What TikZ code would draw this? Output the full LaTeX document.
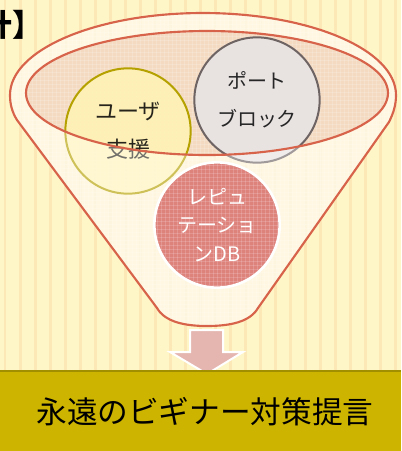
\documentclass[tikz,border=0pt]{standalone}
\usepackage{fontspec}
\newfontfamily\jp{Noto Sans CJK JP}
\newfontfamily\jpb{Noto Sans CJK JP Black}
\definecolor{bgc}{HTML}{FFF6C8}
\definecolor{stripec}{HTML}{FCE8B6}
\definecolor{funnelc}{HTML}{FFF3D4}
\definecolor{ellc}{HTML}{F3D8C0}
\definecolor{redline}{HTML}{D8634B}
\definecolor{yelfill}{HTML}{FFF3B4}
\definecolor{yelline}{HTML}{B5A100}
\definecolor{grayfill}{HTML}{E8E2E1}
\definecolor{grayline}{HTML}{6E6464}
\definecolor{redfill}{HTML}{DE827C}
\definecolor{arrowc}{HTML}{E5B5B0}
\definecolor{bandc}{HTML}{CDB400}
\definecolor{bandline}{HTML}{A28F00}
\tikzset{
  bubble/.style={circle, minimum size=94pt, inner sep=0pt, align=center},
  thinred/.style={draw=redline, line width=1.6pt},
}
\def\funnelpath{(10,95) .. controls (10,49.7) and (96.4,13) .. (203,13)
  .. controls (309.6,13) and (396,49.7) .. (396,95)
  .. controls (396,104) and (394,112) .. (389,122)
  -- (258,308) .. controls (250,322) and (230,326) .. (207,326)
  .. controls (185,326) and (165,322) .. (157,308)
  -- (17,120) .. controls (12,112) and (10,104) .. cycle}
\begin{document}
\begin{tikzpicture}[x=0.75pt,y=-0.75pt]
\useasboundingbox (0,0) rectangle (401,451);
\clip (0,0) rectangle (401,451);
\fill[bgc] (0,0) rectangle (401,451);
\foreach \i in {0,...,26} \fill[stripec] ({4+15*\i},0) rectangle ({6.5+15*\i},372);
% title fragment
\node[anchor=east, inner sep=0pt, font=\jpb\fontsize{23}{26}\selectfont] (title) at (43,25) {計】};
% funnel
\fill[funnelc, opacity=0.85] \funnelpath;
\fill[ellc, opacity=0.9] (207,93) ellipse [x radius=181, y radius=62];
\begin{scope}
  \clip \funnelpath;
  \foreach \i in {0,...,100} \draw[white, opacity=0.18, line width=0.4pt] ({4*\i},0) -- ({4*\i},330);
  \foreach \i in {0,...,85} \draw[white, opacity=0.18, line width=0.4pt] (0,{4*\i}) -- (401,{4*\i});
\end{scope}
% circles behind
\node[bubble, fill=yelfill, fill opacity=0.85, draw=yelline, line width=1.5pt,
      font=\jp\fontsize{16.5}{28.5}\selectfont] (user) at (128,131) {ユーザ\\支援};
\node[bubble, fill=grayfill, draw=grayline, line width=1.5pt, text=black!85,
      font=\jp\fontsize{15}{28.5}\selectfont] (port) at (257,100) {ポート\\ブロック};
% overlay lower funnel
\fill[white, opacity=0.35, even odd rule] \funnelpath (207,93) ellipse [x radius=181, y radius=62];
% lines
\draw[thinred] (207,93) ellipse [x radius=181, y radius=62];
\draw[thinred] \funnelpath;
% reputation circle
\node[bubble, fill=redfill, draw=white, line width=2pt] (rep) at (217,225) {};
\begin{scope}
  \clip (217,225) circle [radius=61];
  \foreach \i in {0,...,32} \draw[white, opacity=0.16, line width=0.5pt] ({153+4*\i},160) -- ({153+4*\i},290);
  \foreach \i in {0,...,32} \draw[white, opacity=0.16, line width=0.5pt] (150,{161+4*\i}) -- (285,{161+4*\i});
\end{scope}
\node[bubble, text=white, font=\jp\fontsize{15}{21.4}\selectfont] (reptext) at (rep.center) {レピュ\\テーショ\\ンDB};
% arrow
\fill[arrowc, draw=white, line width=1.5pt] (190,330) -- (223,330) -- (223,352) -- (243,352)
  -- (207,374) -- (170,352) -- (190,352) -- cycle;
% band
\fill[bandc] (0,371) rectangle (401,451);
\draw[bandline, line width=2pt] (0,371) -- (401,371);
\node[font=\jp\fontsize{23}{28}\selectfont, inner sep=0pt] (band) at (205,412) {永遠のビギナー対策提言};
\end{tikzpicture}
\end{document}
